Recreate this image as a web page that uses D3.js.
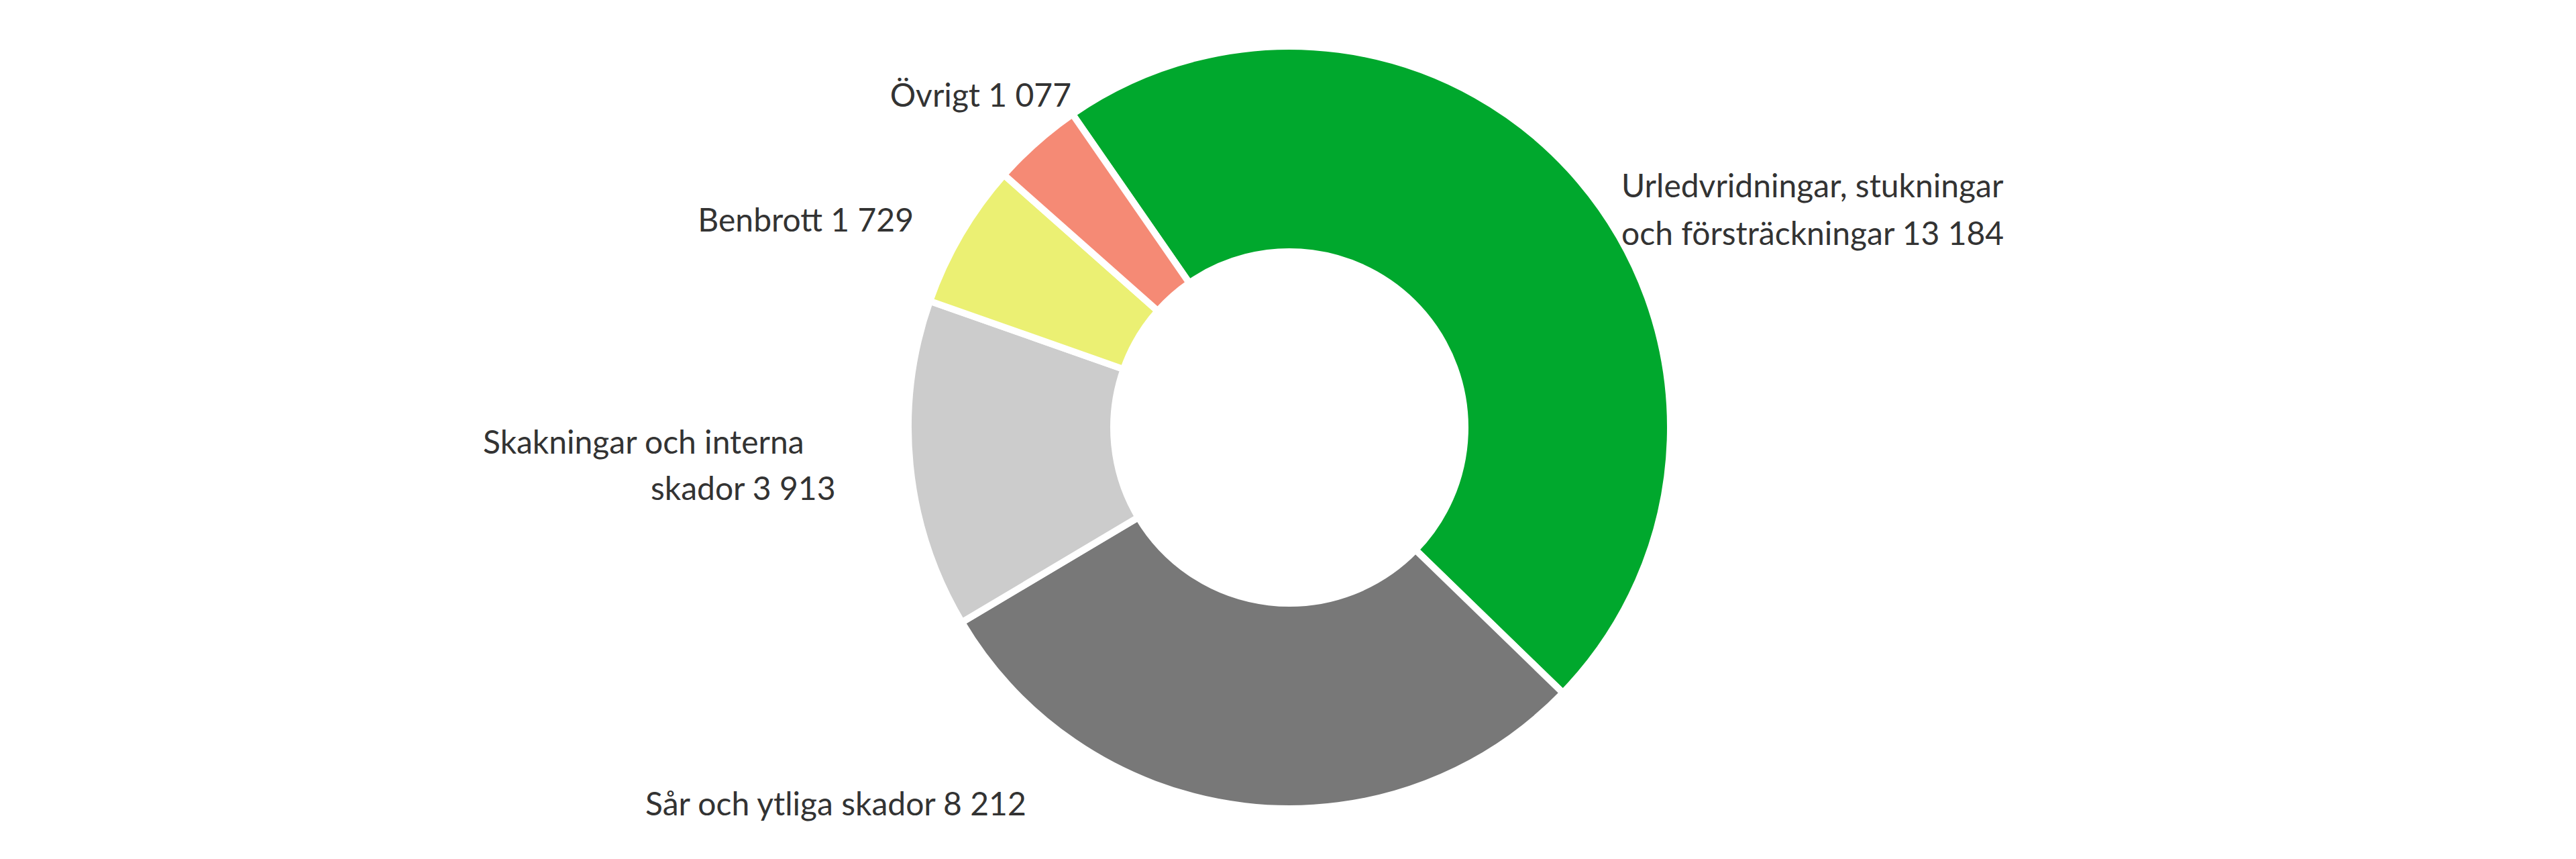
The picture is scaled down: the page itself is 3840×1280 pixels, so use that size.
<!DOCTYPE html>
<html>
<head>
<meta charset="utf-8">
<script src="https://cdn.jsdelivr.net/npm/d3@7"></script>
<style>
  body { margin: 0; background: #fff; }
  text { font-family: Lato, "Open Sans", sans-serif; fill: #333; font-size: 48px; }
</style>
</head>
<body>
<svg id="chart" width="3840" height="1280"></svg>
<script>
// Skador per typ
var categories = ["Urledvridningar, stukningar och försträckningar", "Sår och ytliga skador", "Skakningar och interna skador", "Benbrott", "Övrigt"];
var values = [13184, 8212, 3913, 1729, 1077];
var colors = ["#00a82d", "#787878", "#cccccc", "#ebf073", "#f58a75"];

// label lines, placement only
var labelLines = [
  [["Urledvridningar, stukningar", 2417, 294, "start"], ["och försträckningar 13 184", 2417, 365, "start"]],
  [["Sår och ytliga skador 8 212", 962, 1215, "start"]],
  [["Skakningar och interna", 720, 676, "start"], ["skador 3 913", 970, 745, "start"]],
  [["Benbrott 1 729", 1362, 345, "end"]],
  [["Övrigt 1 077", 1597, 159, "end"]]
];

var svg = d3.select("#chart");
var cx = 1922, cy = 637;
var outer = 568, inner = 262;
var startA = -34.7 * Math.PI / 180;

var pie = d3.pie().sort(null).startAngle(startA).endAngle(startA + 2 * Math.PI);
var arc = d3.arc().innerRadius(inner).outerRadius(outer);

var g = svg.append("g").attr("transform", "translate(" + cx + "," + cy + ")");
g.selectAll("path")
  .data(pie(values))
  .enter().append("path")
  .attr("d", arc)
  .attr("fill", (d, i) => colors[i])
  .attr("stroke", "#fff")
  .attr("stroke-width", 10);

labelLines.forEach(function (lines) {
  lines.forEach(function (l) {
    svg.append("text").attr("x", l[1]).attr("y", l[2]).attr("text-anchor", l[3]).text(l[0]);
  });
});
</script>
</body>
</html>
